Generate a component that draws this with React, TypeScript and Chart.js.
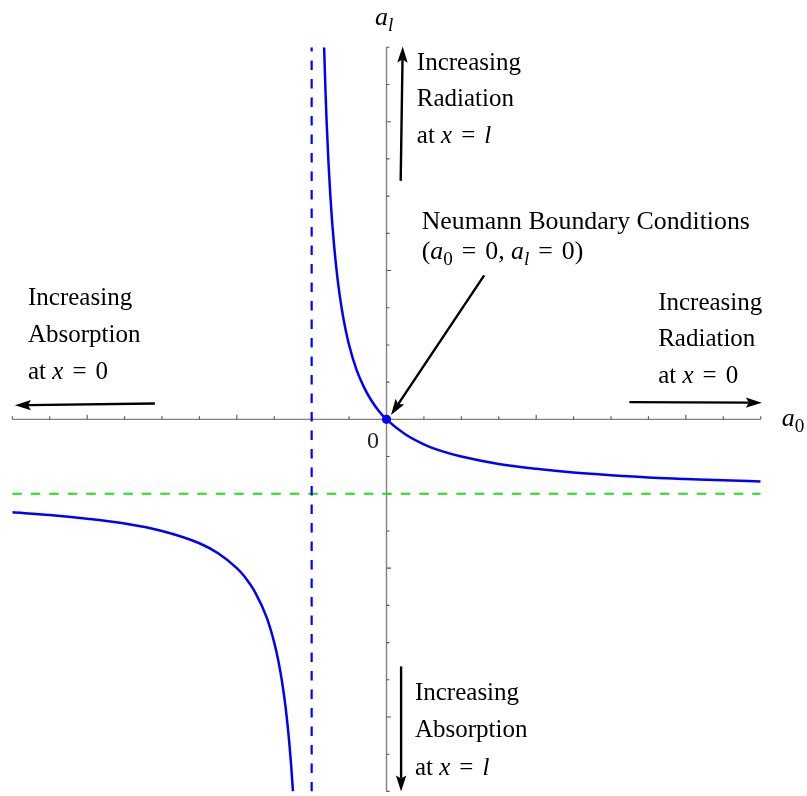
import { useEffect, useRef } from "react";
import { Chart, registerables } from "chart.js";

Chart.register(...registerables);

// Plot window (a0 horizontally, a1 vertically)
const a0Range = [-10, 10];
const a1Range = [-10, 10];

// Tick positions on both axes; the longer ones are the majors
const tickValues = [-10, -9, -8, -7, -6, -5, -4, -3, -2, -1, 1, 2, 3, 4, 5, 6, 7, 8, 9, 10];
const majorTickValues = [-8, -4, 4, 8];
const originLabel = "0";

// Branch of the curve that runs through the origin
const upperBranchA0 = [-1.667, -1.63, -1.6, -1.55, -1.5, -1.45, -1.4, -1.3, -1.2, -1.1, -1.0, -0.8, -0.6, -0.4, -0.2, 0, 0.5, 1, 1.5, 2, 3, 4, 5, 6, 7, 8, 9, 10];
const upperBranchA1 = [10, 8.81, 8, 6.89, 6, 5.27, 4.67, 3.71, 3, 2.44, 2, 1.33, 0.86, 0.5, 0.22, 0, -0.4, -0.67, -0.86, -1, -1.2, -1.33, -1.43, -1.5, -1.56, -1.6, -1.64, -1.67];

// Lower-left branch
const lowerBranchA0 = [-10, -9, -8, -7, -6, -5, -4.5, -4, -3.8, -3.5, -3.2, -3, -2.9, -2.8, -2.7, -2.6, -2.55, -2.5];
const lowerBranchA1 = [-2.5, -2.57, -2.67, -2.8, -3, -3.33, -3.6, -4, -4.22, -4.67, -5.33, -6, -6.44, -7, -7.71, -8.67, -9.27, -10];

// Asymptotes
const verticalAsymptoteA0 = -2;
const horizontalAsymptoteA1 = -2;

// Neumann point
const neumannA0 = 0;
const neumannA1 = 0;

type Run = { t: string; it?: boolean; sub?: boolean; pad?: number };
type Note = { x: number; y: number; step: number; size: number; lines: Run[][] };
type Arrow = { from: [number, number]; to: [number, number] };

const EQ: Run = { t: "=", pad: 9 };

const notes: Note[] = [
  {
    x: -9.58, y: 3.07, step: 0.995, size: 25,
    lines: [[{ t: "Increasing" }], [{ t: "Absorption" }], [{ t: "at " }, { t: "x", it: true }, EQ, { t: "0" }]],
  },
  {
    x: 7.26, y: 2.94, step: 0.98, size: 25,
    lines: [[{ t: "Increasing" }], [{ t: "Radiation" }], [{ t: "at " }, { t: "x", it: true }, EQ, { t: "0" }]],
  },
  {
    x: 0.81, y: 9.39, step: 0.98, size: 25,
    lines: [[{ t: "Increasing" }], [{ t: "Radiation" }], [{ t: "at " }, { t: "x", it: true }, EQ, { t: "l", it: true }]],
  },
  {
    x: 0.76, y: -7.55, step: 1.0, size: 25,
    lines: [[{ t: "Increasing" }], [{ t: "Absorption" }], [{ t: "at " }, { t: "x", it: true }, EQ, { t: "l", it: true }]],
  },
  {
    x: 0.94, y: 5.12, step: 0.82, size: 25.8,
    lines: [
      [{ t: "Neumann Boundary Conditions" }],
      [
        { t: "(" }, { t: "a", it: true }, { t: "0", sub: true }, EQ, { t: "0, " },
        { t: "a", it: true }, { t: "l", it: true, sub: true }, EQ, { t: "0)" },
      ],
    ],
  },
];

const arrows: Arrow[] = [
  { from: [-6.19, 0.425], to: [-9.93, 0.377] },
  { from: [6.49, 0.462], to: [10.03, 0.449] },
  { from: [0.379, 6.41], to: [0.433, 10.02] },
  { from: [0.39, -6.64], to: [0.39, -10.0] },
  { from: [2.61, 3.87], to: [0.12, 0.12] },
];

const axisLabels: { x: number; y: number; runs: Run[] }[] = [
  { x: -0.31, y: 10.6, runs: [{ t: "a", it: true }, { t: "l", it: true, sub: true }] },
  { x: 10.56, y: -0.18, runs: [{ t: "a", it: true }, { t: "0", sub: true }] },
];

const FONT = '"Liberation Serif", "Times New Roman", serif';

function drawRuns(ctx: CanvasRenderingContext2D, runs: Run[], x: number, y: number, size: number) {
  let cx = x;
  for (const r of runs) {
    const s = r.sub ? size * 0.74 : size;
    ctx.font = `${r.it ? "italic " : ""}${s}px ${FONT}`;
    const pad = r.pad ?? 0;
    cx += pad;
    ctx.fillText(r.t, cx, r.sub ? y + size * 0.22 : y);
    cx += ctx.measureText(r.t).width + pad;
  }
}

function drawArrow(ctx: CanvasRenderingContext2D, x1: number, y1: number, x2: number, y2: number) {
  const ang = Math.atan2(y2 - y1, x2 - x1);
  const c = Math.cos(ang), s = Math.sin(ang);
  const len = 16, half = 5.2, notch = 3;
  ctx.beginPath();
  ctx.moveTo(x1, y1);
  ctx.lineTo(x2 - c * (len - notch), y2 - s * (len - notch));
  ctx.stroke();
  const bx = x2 - c * len, by = y2 - s * len;
  ctx.beginPath();
  ctx.moveTo(x2, y2);
  ctx.lineTo(bx - s * half, by + c * half);
  ctx.lineTo(x2 - c * (len - notch), y2 - s * (len - notch));
  ctx.lineTo(bx + s * half, by - c * half);
  ctx.closePath();
  ctx.fill();
}

const axesPlugin = {
  id: "crossAxes",
  beforeDatasetsDraw(chart: any) {
    const { ctx, chartArea, scales } = chart;
    const xs = scales.x, ys = scales.y;
    const ox = xs.getPixelForValue(0), oy = ys.getPixelForValue(0);
    ctx.save();
    ctx.strokeStyle = "#808080";
    ctx.lineWidth = 1.4;
    ctx.beginPath();
    ctx.moveTo(chartArea.left, oy);
    ctx.lineTo(chartArea.right, oy);
    ctx.moveTo(ox, chartArea.top);
    ctx.lineTo(ox, chartArea.bottom);
    ctx.stroke();
    ctx.strokeStyle = "#555";
    ctx.lineWidth = 1.1;
    ctx.beginPath();
    for (const v of tickValues) {
      const len = majorTickValues.includes(v) ? 4.5 : 3;
      const px = xs.getPixelForValue(v);
      ctx.moveTo(px, oy);
      ctx.lineTo(px, oy - len);
      const py = ys.getPixelForValue(v);
      ctx.moveTo(ox, py);
      ctx.lineTo(ox + len, py);
    }
    ctx.stroke();
    ctx.fillStyle = "#222";
    ctx.font = `24px ${FONT}`;
    ctx.textAlign = "right";
    ctx.fillText(originLabel, xs.getPixelForValue(-0.2), ys.getPixelForValue(-0.76));
    ctx.restore();
  },
  afterDatasetsDraw(chart: any) {
    const { ctx, scales } = chart;
    const xs = scales.x, ys = scales.y;
    const unit = Math.abs(ys.getPixelForValue(1) - ys.getPixelForValue(0));
    ctx.save();
    ctx.strokeStyle = "#000";
    ctx.fillStyle = "#000";
    ctx.lineWidth = 2.4;
    for (const a of arrows) {
      drawArrow(
        ctx,
        xs.getPixelForValue(a.from[0]), ys.getPixelForValue(a.from[1]),
        xs.getPixelForValue(a.to[0]), ys.getPixelForValue(a.to[1])
      );
    }
    ctx.textAlign = "left";
    ctx.textBaseline = "alphabetic";
    for (const n of notes) {
      const x = xs.getPixelForValue(n.x);
      n.lines.forEach((line, i) => {
        drawRuns(ctx, line, x, ys.getPixelForValue(n.y) + i * n.step * unit, n.size);
      });
    }
    for (const l of axisLabels) {
      drawRuns(ctx, l.runs, xs.getPixelForValue(l.x), ys.getPixelForValue(l.y), 26);
    }
    ctx.restore();
  },
};

const toPoints = (xs: number[], ys: number[]) => xs.map((x, i) => ({ x, y: ys[i] }));

export default function App() {
  const canvasRef = useRef<HTMLCanvasElement | null>(null);

  useEffect(() => {
    const canvas = canvasRef.current;
    if (!canvas) return;
    const blue = "rgb(0, 0, 255)";
    const green = "rgb(30, 225, 30)";
    const chart = new Chart(canvas, {
      type: "scatter",
      data: {
        datasets: [
          {
            data: toPoints(upperBranchA0, upperBranchA1),
            showLine: true,
            borderColor: blue,
            borderWidth: 2.5,
            pointRadius: 0,
            cubicInterpolationMode: "monotone",
          },
          {
            data: toPoints(lowerBranchA0, lowerBranchA1),
            showLine: true,
            borderColor: blue,
            borderWidth: 2.5,
            pointRadius: 0,
            cubicInterpolationMode: "monotone",
          },
          {
            data: [
              { x: verticalAsymptoteA0, y: a1Range[0] },
              { x: verticalAsymptoteA0, y: a1Range[1] },
            ],
            showLine: true,
            borderColor: blue,
            borderWidth: 2.2,
            borderDash: [9.5, 9],
            pointRadius: 0,
          },
          {
            data: [
              { x: a0Range[0], y: horizontalAsymptoteA1 },
              { x: a0Range[1], y: horizontalAsymptoteA1 },
            ],
            showLine: true,
            borderColor: green,
            borderWidth: 2.2,
            borderDash: [9.5, 9],
            pointRadius: 0,
          },
          {
            data: [{ x: neumannA0, y: neumannA1 }],
            showLine: false,
            pointRadius: 4.6,
            pointBackgroundColor: blue,
            pointBorderWidth: 0,
          },
        ],
      } as any,
      options: {
        animation: false,
        responsive: false,
        events: [],
        layout: { padding: { left: 12.3, right: 46.3, top: 47.3, bottom: 0 } },
        plugins: { legend: { display: false }, tooltip: { enabled: false } },
        scales: {
          x: { type: "linear", min: a0Range[0], max: a0Range[1], display: false },
          y: { type: "linear", min: a1Range[0], max: a1Range[1], display: false },
        },
      },
      plugins: [axesPlugin],
    });
    return () => chart.destroy();
  }, []);

  return (
    <div style={{ position: "fixed", left: 0, top: 0, width: 807, height: 796, background: "#fff" }}>
      <canvas ref={canvasRef} width={807} height={796} style={{ display: "block" }} />
    </div>
  );
}
